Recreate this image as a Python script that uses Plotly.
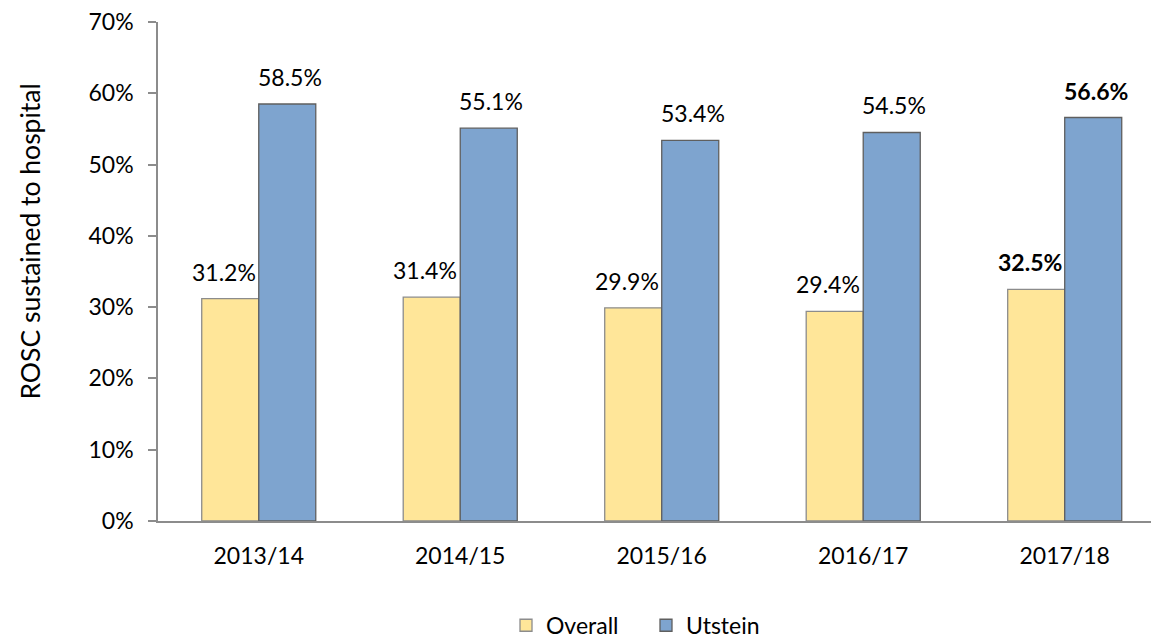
import plotly.graph_objects as go

categories = ["2013/14", "2014/15", "2015/16", "2016/17", "2017/18"]
overall = [31.2, 31.4, 29.9, 29.4, 32.5]
utstein = [58.5, 55.1, 53.4, 54.5, 56.6]
series_names = ["Overall", "Utstein"]
y_title = "ROSC sustained to hospital"
bold_last = True

FONT = "Lato, Open Sans, sans-serif"
fig = go.Figure()
fig.add_trace(go.Bar(x=categories, y=overall, name=series_names[0],
                     marker=dict(color="#FFE699", line=dict(color="#8c8c8c", width=1.3))))
fig.add_trace(go.Bar(x=categories, y=utstein, name=series_names[1],
                     marker=dict(color="#7EA4CF", line=dict(color="#5f5f5f", width=1.3))))

annotations = []
for i, c in enumerate(categories):
    for vals, shift in ((overall, -35), (utstein, 31)):
        txt = f"{vals[i]:.1f}%"
        if bold_last and i == len(categories) - 1:
            txt = f"<b>{txt}</b>"
        annotations.append(dict(x=c, y=vals[i], text=txt, showarrow=False,
                                xshift=shift, yshift=27, yanchor="middle",
                                font=dict(size=23, color="#000000", family=FONT)))

# y-axis title as rotated annotation (placed slightly above axis centre as in reference)
annotations.append(dict(xref="paper", yref="paper", x=0, y=0.56, xshift=-128,
                        xanchor="center", yanchor="middle", textangle=-90,
                        text=y_title, showarrow=False,
                        font=dict(size=26.5, color="#000000", family=FONT)))

# page body has an 8px default margin, so the figure is offset to fit the window
fig.update_layout(
    width=1151, height=641,
    margin=dict(l=150, r=1, t=14, b=128),
    paper_bgcolor="white", plot_bgcolor="white",
    barmode="group", bargap=0.434, bargroupgap=0,
    font=dict(family=FONT, size=23, color="#000000"),
    xaxis=dict(range=[-0.5, 4.463], showline=True, linecolor="#8c8c8c", linewidth=1.5,
               ticks="", showgrid=False, tickfont=dict(size=23), ticklabelstandoff=14,
               automargin=False),
    yaxis=dict(range=[0, 70], dtick=10, ticksuffix="%", showline=True, linecolor="#8c8c8c",
               linewidth=1.5, ticks="outside", ticklen=8, tickcolor="#8c8c8c", tickwidth=1.5,
               showgrid=False, zeroline=False, tickfont=dict(size=23), ticklabelstandoff=10,
               automargin=False, ticklabeloverflow="allow"),
    legend=dict(orientation="h", x=0.488, xanchor="center", y=-0.209, yanchor="middle",
                font=dict(size=23), itemwidth=30, entrywidth=95, traceorder="normal"),
    annotations=annotations,
)
fig.write_html("out.html")
